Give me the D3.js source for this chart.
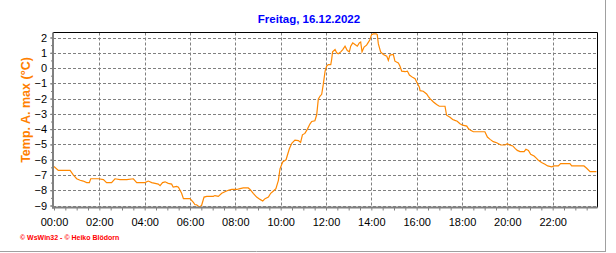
<!DOCTYPE html>
<html><head><meta charset="utf-8">
<script src="https://cdn.jsdelivr.net/npm/d3@7"></script>
<style>
html,body{margin:0;padding:0;background:#fff;}
svg{display:block;}
text{font-family:"Liberation Sans",Arial,sans-serif;}
</style></head>
<body>
<svg id="c" width="616" height="253"></svg>
<script>
// ---- data ----
const title = "Freitag, 16.12.2022";
const yLabel = "Temp. A. max  (°C)";
const footer = "© WsWin32 - © Heiko Blödorn";
const xTickLabels = ["00:00","02:00","04:00","06:00","08:00","10:00","12:00","14:00","16:00","18:00","20:00","22:00"];
const yTickValues = [2,1,0,-1,-2,-3,-4,-5,-6,-7,-8,-9];
// hours of day
const hours = [0.0,0.19,0.71,0.85,1.0,1.15,1.29,1.44,1.56,1.62,1.96,2.18,2.32,2.54,2.69,2.91,3.21,3.5,3.65,4.01,
4.16,4.31,4.46,4.6,4.68,4.79,4.9,5.04,5.19,5.26,5.41,5.49,5.63,5.71,6.0,6.15,6.22,6.29,6.41,6.51,
6.62,6.74,7.03,7.1,7.25,7.4,7.54,7.69,7.84,8.06,8.21,8.35,8.57,8.65,8.79,8.94,9.09,9.21,9.31,9.46,
9.56,9.68,9.79,9.9,9.97,10.09,10.24,10.29,10.38,10.49,10.63,10.78,10.88,10.96,11.07,11.18,11.29,11.37,11.51,11.59,
11.66,11.74,11.81,11.88,11.96,12.03,12.1,12.21,12.25,12.29,12.4,12.47,12.54,12.65,12.74,12.84,12.94,13.03,13.09,13.18,
13.28,13.38,13.47,13.53,13.59,13.68,13.79,13.88,13.94,14.01,14.09,14.21,14.26,14.31,14.41,14.53,14.68,14.75,14.82,14.97,
15.04,15.19,15.26,15.34,15.49,15.59,15.68,15.82,15.93,16.0,16.12,16.15,16.29,16.44,16.51,16.59,16.74,16.88,17.0,17.25,
17.32,17.47,17.59,17.69,17.79,17.91,18.03,18.21,18.28,18.38,18.5,19.01,19.12,19.24,19.38,19.53,19.71,19.9,20.0,20.09,
20.24,20.34,20.44,20.56,20.74,20.82,20.93,21.03,21.18,21.29,21.37,21.51,21.66,21.78,21.96,22.06,22.25,22.35,22.76,22.84,
23.38,23.5,23.65,23.93];
const temps = [-6.45,-6.7,-6.7,-7.0,-7.25,-7.35,-7.4,-7.5,-7.5,-7.25,-7.25,-7.3,-7.5,-7.5,-7.25,-7.3,-7.3,-7.25,-7.5,-7.5,
-7.4,-7.5,-7.55,-7.6,-7.7,-7.5,-7.45,-7.55,-7.6,-7.8,-7.75,-7.8,-8.2,-8.55,-8.55,-8.8,-8.95,-8.95,-9.1,-9.0,
-8.45,-8.4,-8.4,-8.35,-8.4,-8.2,-8.1,-8.0,-7.95,-7.95,-7.9,-7.85,-7.85,-7.95,-8.2,-8.45,-8.6,-8.7,-8.55,-8.45,
-8.2,-8.05,-7.9,-7.35,-6.6,-6.15,-6.0,-5.74,-5.3,-4.93,-4.72,-4.75,-4.87,-4.37,-4.28,-4.0,-3.67,-3.5,-3.45,-3.06,
-2.04,-1.83,-1.72,-1.07,-0.2,0.13,0.23,0.23,0.56,1.06,1.21,1.0,0.93,1.06,1.21,1.43,1.15,1.06,1.43,1.65,
1.54,1.43,1.65,1.71,1.06,1.37,1.5,1.71,1.87,2.19,2.24,2.24,2.19,1.58,1.06,0.89,0.78,0.5,0.85,0.89,
0.45,0.34,0.13,-0.2,-0.24,-0.2,-0.46,-0.61,-0.7,-0.91,-1.26,-1.48,-1.52,-1.7,-1.85,-2.0,-2.22,-2.39,-2.5,-2.5,
-3.09,-3.22,-3.37,-3.43,-3.48,-3.65,-3.74,-3.8,-3.96,-4.08,-4.17,-4.17,-4.52,-4.67,-4.82,-4.89,-5.04,-5.04,-4.95,-5.04,
-5.1,-5.26,-5.39,-5.47,-5.47,-5.32,-5.39,-5.65,-5.76,-5.91,-6.04,-6.19,-6.3,-6.41,-6.47,-6.41,-6.41,-6.26,-6.26,-6.41,
-6.41,-6.56,-6.78,-6.78];

// ---- layout ----
const svg = d3.select("#c");
const L = 53, R = 597.5, T = 32.5, B = 207.5;
const x = d3.scaleLinear().domain([0, 24]).range([54, 598]);
const y = d3.scaleLinear().domain([-9, 2]).range([205.5, 37.5]);
const grid = "#808080";

svg.append("text").attr("x", 309).attr("y", 23).attr("text-anchor", "middle")
  .attr("fill", "#0000ff").attr("font-weight", "bold").attr("font-size", "11.5px").text(title);

// gridlines
const g = svg.append("g");
g.selectAll("line.h").data(yTickValues).enter().append("line")
  .attr("x1", L).attr("x2", R).attr("y1", d => Math.round(y(d)) + 0.5).attr("y2", d => Math.round(y(d)) + 0.5)
  .attr("stroke", grid).attr("stroke-dasharray", "3,2");
const vHours = xTickLabels.map((s, i) => i * 2).filter(h => h > 0);
g.selectAll("line.v").data(vHours).enter().append("line")
  .attr("y1", T).attr("y2", B).attr("x1", d => Math.round(x(d)) + 0.5).attr("x2", d => Math.round(x(d)) + 0.5)
  .attr("stroke", grid).attr("stroke-dasharray", "3,2");

// top & right border
svg.append("line").attr("x1", L).attr("x2", R).attr("y1", T).attr("y2", T).attr("stroke", "#000");
svg.append("line").attr("x1", R).attr("x2", R).attr("y1", T).attr("y2", B).attr("stroke", "#000");

// data line
const pts = hours.map((h, i) => [h, temps[i]]);
svg.append("path").datum(pts)
  .attr("fill", "none").attr("stroke", "#ff8800").attr("stroke-width", 1.2)
  .attr("d", d3.line().x(d => x(d[0])).y(d => y(d[1])));

// y axis
const yAx = svg.append("g").attr("transform", `translate(${L},0)`)
  .call(d3.axisLeft(y).tickValues(yTickValues).tickSize(3).tickPadding(3).tickFormat(d3.format("d")));
yAx.select(".domain").remove();
yAx.selectAll("line").attr("stroke", grid);
yAx.selectAll("text").attr("font-size", "11px").attr("fill", "#000").attr("font-family", "Liberation Sans, Arial, sans-serif");
const yMinor = d3.range(-9, 2.01, 0.5);
const yAx2 = svg.append("g").attr("transform", `translate(${L},0)`)
  .call(d3.axisLeft(y).tickValues(yMinor).tickSize(2).tickFormat(""));
yAx2.select(".domain").remove();
yAx2.selectAll("line").attr("stroke", grid);
svg.append("line").attr("x1", L).attr("x2", L).attr("y1", T).attr("y2", B + 1)
  .attr("stroke", grid).attr("stroke-width", 2);

// x axis
const xTicks = d3.range(0, 24, 0.5);
const xAx = svg.append("g").attr("transform", `translate(0,${B})`)
  .call(d3.axisBottom(x).tickValues(xTicks).tickSize(3).tickPadding(8)
    .tickFormat(d => (d % 2 === 0) ? xTickLabels[d / 2] : ""));
xAx.select(".domain").remove();
xAx.selectAll("line").attr("stroke", grid);
xAx.selectAll("text").attr("font-size", "11px").attr("fill", "#000").attr("font-family", "Liberation Sans, Arial, sans-serif");
svg.append("line").attr("x1", L - 1).attr("x2", R).attr("y1", B).attr("y2", B)
  .attr("stroke", grid).attr("stroke-width", 2);

// y label
svg.append("text").attr("transform", "translate(30,110) rotate(-90)").attr("text-anchor", "middle")
  .attr("fill", "#ff8000").attr("font-weight", "bold").attr("font-size", "12.5px").text(yLabel);

// footer
svg.append("text").attr("x", 20).attr("y", 239.5).attr("fill", "#ff0000")
  .attr("font-size", "7px").attr("font-weight", "bold").text(footer);

// frame
svg.append("line").attr("x1", 605.5).attr("x2", 605.5).attr("y1", 0).attr("y2", 252).attr("stroke", "#a0a0a0");
svg.append("line").attr("x1", 0).attr("x2", 606).attr("y1", 251.5).attr("y2", 251.5).attr("stroke", "#a0a0a0");
</script>
</body></html>
